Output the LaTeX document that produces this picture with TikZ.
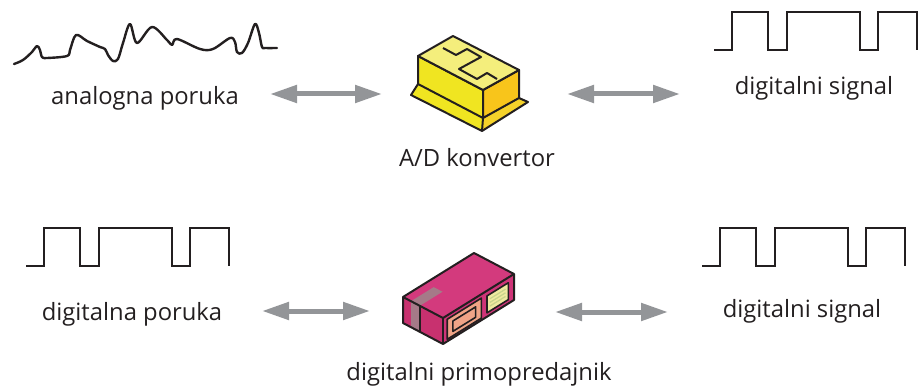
\documentclass[tikz,border=0pt]{standalone}
\usepackage{fontspec}
\setmainfont{Open Sans}
\usetikzlibrary{arrows.meta}

\definecolor{ink}{HTML}{231F20}
\definecolor{arrgray}{HTML}{939598}
\definecolor{ylfront}{HTML}{F0E521}
\definecolor{yltop}{HTML}{F4EE7C}
\definecolor{ylside}{HTML}{F8C51B}
\definecolor{ylflange}{HTML}{F5D22A}
\definecolor{pktop}{HTML}{D33A7D}
\definecolor{pkleft}{HTML}{C8316F}
\definecolor{pkright}{HTML}{CF3478}
\definecolor{mauve}{HTML}{A57A88}
\definecolor{salmon}{HTML}{F0A487}
\definecolor{paleyl}{HTML}{EFE9A0}
\definecolor{stripe}{HTML}{C8D48C}

\begin{document}
\begin{tikzpicture}[
    x=1pt, y=-1pt,
    label/.style={anchor=base, inner sep=0pt, text=ink, font=\fontsize{23.8}{28}\selectfont},
    dblarr/.style={{Triangle[length=27pt,width=17pt]}-{Triangle[length=27pt,width=17pt]}, line width=5pt, draw=arrgray},
    sig/.style={draw=ink, line width=2.6pt, line join=miter},
    face/.style={draw=ink, line width=2pt, line join=round},
    panel/.style={draw=ink, line width=1.6pt, line join=round},
    sqwave/.pic={
        \draw[sig] (0,0) -- (18,0) -- (18,-38) -- (54,-38) -- (54,0) -- (73,0) -- (73,-38)
            -- (146,-38) -- (146,0) -- (164,0) -- (164,-38) -- (203,-38) -- (203,0);
    }
]
    \useasboundingbox (0,0) rectangle (923,387);

    % analog message
    \draw[ink, line width=2.4pt, line cap=round, line join=round] plot[smooth, tension=0.55] coordinates {
        (14,64) (23,60) (32,52) (37,46) (40,50) (42,57) (47,58) (67,56) (70,50) (76,35)
        (87,41) (100,47) (105,49) (108,55) (113,61) (118,59) (123,43) (130,24) (137,43)
        (152,27) (167,40) (172,45) (177,39) (200,49) (213,49) (230,38) (235,42) (237,52)
        (242,53) (248,43) (255,24) (259,33) (262,47) (265,48) (277,48)};
    \node[label] (analog) at (145,105) {analogna poruka};

    % A/D converter box
    \coordinate (yB) at (453,36);
    \coordinate (yL) at (418,56);
    \coordinate (yF) at (483,90);
    \coordinate (yR) at (519,70);
    \coordinate (yL2) at (418,84);
    \coordinate (yF2) at (483,118);
    \coordinate (yR2) at (519,98);
    \coordinate (yL3) at (411,95);
    \coordinate (yF3) at (482,131);
    \coordinate (yR3) at (528,102);
    \fill[ylfront] (yL2) -- (yF2) -- (yF3) -- (yL3) -- cycle;
    \fill[ylflange] (yF2) -- (yR2) -- (yR3) -- (yF3) -- cycle;
    \draw[face] (yL2) -- (yL3) -- (yF3) -- (yR3) -- (yR2);
    \draw[face] (yF2) -- (yF3);
    \draw[face, fill=ylfront] (yL) -- (yF) -- (yF2) -- (yL2) -- cycle;
    \draw[face, fill=ylside] (yF) -- (yR) -- (yR2) -- (yF2) -- cycle;
    \draw[face, fill=yltop] (yL) -- (yB) -- (yR) -- (yF) -- cycle;
    \draw[face] (443,48) -- (456,55) -- (467,49) -- (481,57) -- (459,69) -- (477,79) -- (487,73) -- (497,79);
    \node[label] (adc) at (477,167) {A/D konvertor};

    % digital signal, top right
    \pic at (714,50) {sqwave};
    \node[label] (sigtop) at (814,95) {digitalni signal};

    % digital message, bottom left
    \pic at (26,266) {sqwave};
    \node[label] (digmsg) at (132,320) {digitalna poruka};

    % transceiver box
    \coordinate (pB) at (474,253);
    \coordinate (pL) at (403,297);
    \coordinate (pF) at (443,318);
    \coordinate (pR) at (514,274);
    \coordinate (pL2) at (403,323);
    \coordinate (pF2) at (443,344);
    \coordinate (pR2) at (514,300);
    \fill[pkleft] (pL) -- (pF) -- (pF2) -- (pL2) -- cycle;
    \fill[pkright] (pF) -- (pR) -- (pR2) -- (pF2) -- cycle;
    \fill[pktop] (pL) -- (pB) -- (pR) -- (pF) -- cycle;
    % label strip over the left edge
    \begin{scope}[shift={(pL)}, x={(40pt,-21pt)}, y={(0pt,-26pt)}]
        \fill[mauve] (0.2,0) -- (0.42,0) -- (0.42,1) -- (0.2,1) -- cycle;
        \draw[ink, line width=1.6pt] (0.42,0) -- (0.42,1);
    \end{scope}
    \begin{scope}[shift={(pL)}, x={(40pt,-21pt)}, y={(71pt,44pt)}]
        \fill[mauve] (0.2,0) -- (0.42,0) -- (0.42,0.32) -- (0.2,0.32) -- cycle;
    \end{scope}
    % front panels
    \begin{scope}[shift={(pF)}, x={(71pt,44pt)}, y={(0pt,-26pt)}]
        \draw[panel, fill=salmon] (0.06,0.15) -- (0.54,0.15) -- (0.54,0.92) -- (0.06,0.92) -- cycle;
        \draw[panel, fill=salmon] (0.14,0.35) -- (0.46,0.35) -- (0.46,0.75) -- (0.14,0.75) -- cycle;
        \draw[panel, fill=paleyl] (0.62,0.2) -- (0.92,0.2) -- (0.92,0.85) -- (0.62,0.85) -- cycle;
        \foreach \t in {0.38,0.52,0.66}
            \draw[stripe, line width=1.3pt] (0.66,\t) -- (0.88,\t);
    \end{scope}
    \draw[face] (pL) -- (pB) -- (pR) -- (pF) -- cycle;
    \draw[face] (pL) -- (pL2) -- (pF2) -- (pR2) -- (pR);
    \draw[face] (pF) -- (pF2);
    \node[label] (xcvr) at (479,380) {digitalni primopredajnik};

    % digital signal, bottom right
    \pic at (702,266) {sqwave};
    \node[label] (sigbot) at (802,317) {digitalni signal};

    % two-way arrows
    \coordinate (a1l) at (270,94);
    \coordinate (a1r) at (382,94);
    \coordinate (a2l) at (567,94);
    \coordinate (a2r) at (680,94);
    \coordinate (a3l) at (262,311);
    \coordinate (a3r) at (370,311);
    \coordinate (a4l) at (555,312);
    \coordinate (a4r) at (668,312);
    \draw[dblarr] (a1l) -- (a1r);
    \draw[dblarr] (a2l) -- (a2r);
    \draw[dblarr] (a3l) -- (a3r);
    \draw[dblarr] (a4l) -- (a4r);
\end{tikzpicture}
\end{document}
